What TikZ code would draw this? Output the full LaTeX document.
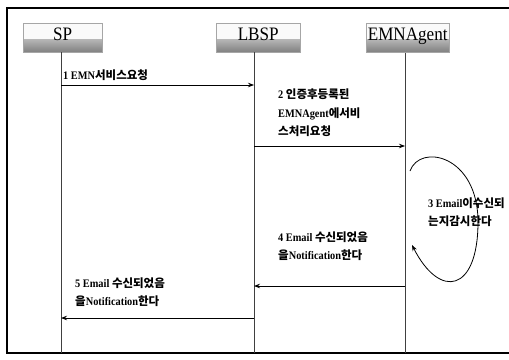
\documentclass[tikz,border=0pt]{standalone}
\usepackage{fontspec}
\setmainfont{Liberation Serif}[FakeStretch=0.9]
\newfontfamily\kr{Noto Sans CJK KR}
\usetikzlibrary{arrows.meta}
\definecolor{shA}{gray}{0.5}
\definecolor{shC}{gray}{0.98}
\tikzset{
  actor/.style={draw=gray!70, line width=0.4pt, fill=shC, anchor=north west,
    minimum height=29pt, inner xsep=0pt, inner ysep=1pt, text height=16pt, text depth=11pt,
    font=\fontsize{19}{20}\selectfont,
    path picture={\fill[top color=shC, bottom color=shA]
      (path picture bounding box.south west) rectangle ([yshift=13pt]path picture bounding box.south east);}},
  life/.style={draw=black!75, line width=0.6pt},
  msg/.style={draw=black, line width=0.8pt, -{Stealth[length=6pt,width=4.5pt]}},
  lbl/.style={anchor=west, inner sep=0pt, align=left, font=\fontsize{11.5}{18.5}\selectfont\bfseries},
  frame/.style={draw=black, line width=1.1pt}
}
\begin{document}
\begin{tikzpicture}[x=1pt,y=-1pt]
\useasboundingbox (0,0) rectangle (509,359);
% frame
\coordinate (f1) at (512,8);
\coordinate (f2) at (7,8);
\coordinate (f3) at (7,353);
\coordinate (f4) at (512,353);
\draw[frame] (f1) -- (f2) -- (f3) -- (f4);
% actors
\node[actor, minimum width=79pt] (sp) at (23,23) {SP};
\node[actor, minimum width=84pt] (lbsp) at (216,23) {LBSP};
\node[actor, minimum width=83pt] (emn) at (366,23) {EMNAgent};
% lifelines
\coordinate (spT) at (61,52);   \coordinate (spB) at (61,353);
\coordinate (lbT) at (254,52);  \coordinate (lbB) at (254,353);
\coordinate (emT) at (405,53);  \coordinate (emB) at (405,353);
\draw[life] (spT) -- (spB);
\draw[life] (lbT) -- (lbB);
\draw[life] (emT) -- (emB);
% message points
\coordinate (m1a) at (61,85);   \coordinate (m1b) at (254,85);
\coordinate (m2a) at (254,146); \coordinate (m2b) at (405,146);
\coordinate (m3a) at (410,171); \coordinate (m3b) at (412,245);
\coordinate (m4a) at (405,286); \coordinate (m4b) at (254,286);
\coordinate (m5a) at (254,318); \coordinate (m5b) at (61,318);
\draw[msg] (m1a) -- (m1b);
\draw[msg] (m2a) -- (m2b);
\draw[msg] (m3a) .. controls (420,143) and (478,155) .. (478,222)
                 .. controls (478,292) and (440,300) .. (m3b);
\draw[msg] (m4a) -- (m4b);
\draw[msg] (m5a) -- (m5b);
% labels
\node[lbl] (l1) at (63,75) {1 EMN{\kr 서비스요청}};
\node[lbl] (l2) at (278,113) {2 {\kr 인증후등록된}\\EMNAgent{\kr 에서비}\\{\kr 스처리요청}};
\node[lbl] (l3) at (428,212) {3 Email{\kr 이수신되}\\{\kr 는지감시한다}};
\node[lbl] (l4) at (278,246) {4 Email {\kr 수신되었음}\\{\kr 을}Notification{\kr 한다}};
\node[lbl] (l5) at (75,292) {5 Email {\kr 수신되었음}\\{\kr 을}Notification{\kr 한다}};
\end{tikzpicture}
\end{document}
